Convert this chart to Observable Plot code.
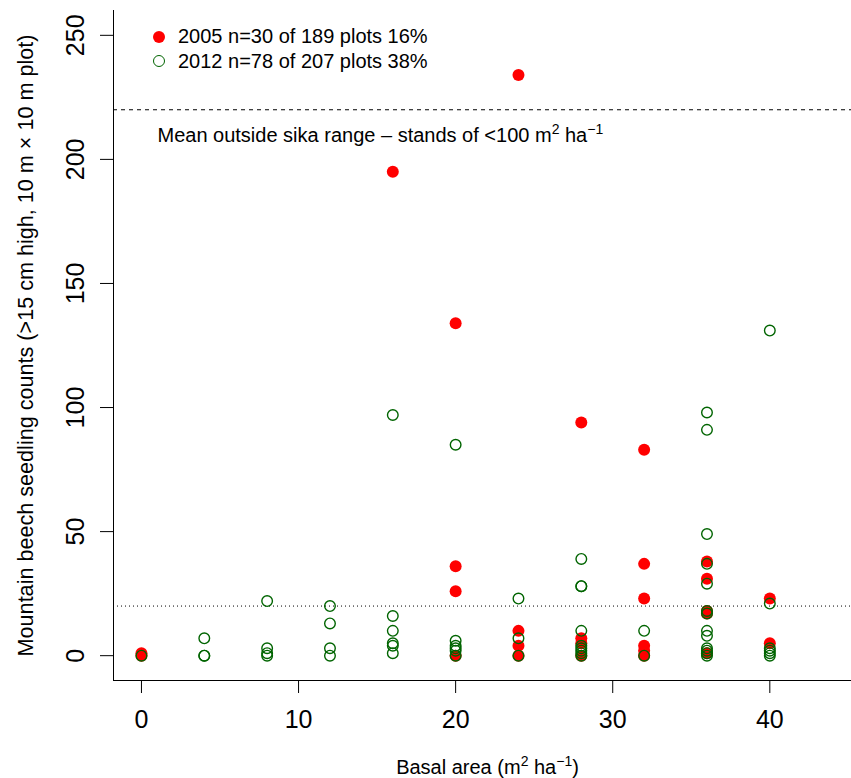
<!DOCTYPE html>
<html>
<head>
<meta charset="utf-8">
<script src="https://cdn.jsdelivr.net/npm/d3@7"></script>
<script src="https://cdn.jsdelivr.net/npm/@observablehq/plot@0.6"></script>
<style>
  html, body { margin: 0; padding: 0; background: white; }
  #wrap { position: relative; width: 851px; height: 778px; font-family: "Liberation Sans", Arial, Helvetica, sans-serif; }
  .leg { position: absolute; left: 0; font-size: 20px; line-height: 24px; white-space: nowrap; color: black; }
  .sym { position: absolute; box-sizing: border-box; border-radius: 50%; }
</style>
</head>
<body>
<div id="wrap"></div>
<script>
// ---- data ----
const basalArea2005 = [0, 0, 16, 20, 20, 20, 20, 24, 24, 24, 24, 28, 28, 28, 28, 32, 32, 32, 32, 32, 32, 36, 36, 36, 36, 36, 40, 40];
const counts2005    = [0, 1, 195, 134, 36, 26, 0, 234, 10, 4, 0, 94, 7, 5, 0, 83, 37, 23, 4, 2, 0, 38, 31, 18, 17, 1, 23, 5];

const basalArea2012 = [0, 4, 4, 4, 8, 8, 8, 8, 12, 12, 12, 12, 16, 16, 16, 16, 16, 16, 20, 20, 20, 20, 20, 20, 24, 24, 24,
                       28, 28, 28, 28, 28, 28, 28, 28, 28, 32, 32,
                       36, 36, 36, 36, 36, 36, 36, 36, 36, 36, 36, 36, 36, 40, 40, 40, 40, 40, 40];
const counts2012    = [0, 7, 0, 0, 22, 3, 1, 0, 20, 13, 3, 0, 97, 16, 10, 5, 4, 1, 85, 6, 4, 3, 2, 0, 23, 7, 0,
                       39, 28, 28, 10, 4, 3, 2, 1, 0, 10, 0,
                       98, 91, 49, 37, 29, 18, 17, 10, 8, 3, 2, 1, 0, 131, 21, 3, 2, 1, 0];

const xTicks = [0, 10, 20, 30, 40];
const yTicks = [0, 50, 100, 150, 200, 250];
const meanOutside = 220;   // dashed reference line
const lowLine = 20;        // dotted reference line

const legendLabels = ["2005 n=30 of 189 plots 16%", "2012 n=78 of 207 plots 38%"];
const xTitle = "Basal area (m^{2} ha^{\u22121})";
const yTitle = "Mountain beech seedling counts (>15 cm high, 10 m \u00d7 10 m plot)";
const noteText = "Mean outside sika range \u2013 stands of <100 m^{2} ha^{\u22121}";
const notePos = {x: 1.02, y: 209.5};

const xDomain = [-1.78, 45.2];
const yDomain = [-10, 260];

const red = "#ff0000";
const green = "#006400";

const d2005 = basalArea2005.map((x, i) => ({x, y: counts2005[i]}));
const d2012 = basalArea2012.map((x, i) => ({x, y: counts2012[i]}));

const chart = Plot.plot({
  width: 851,
  height: 778,
  marginLeft: 113,
  marginRight: 0,
  marginTop: 10,
  marginBottom: 98,
  style: {fontFamily: '"Liberation Sans", Arial, Helvetica, sans-serif', fontSize: "20px", background: "white", color: "black"},
  x: {domain: xDomain},
  y: {domain: yDomain},
  marks: [
    Plot.ruleY([lowLine], {stroke: "black", strokeWidth: 1, strokeDasharray: "1,3"}),
    Plot.ruleY([meanOutside], {stroke: "black", strokeWidth: 1, strokeDasharray: "4,4"}),
    Plot.ruleX([xDomain[0]], {stroke: "black", strokeWidth: 1}),
    Plot.ruleY([yDomain[0]], {stroke: "black", strokeWidth: 1}),
    Plot.dot(d2005, {x: "x", y: "y", r: 6, fill: red}),
    Plot.dot(d2012, {x: "x", y: "y", r: 5.3, stroke: green, strokeWidth: 1.4, fill: "none"}),
    Plot.axisX({ticks: xTicks, tickSize: 13, tickPadding: 17, fontSize: 25, label: null}),
    Plot.axisY({ticks: yTicks, tickSize: 13, tickFormat: () => "", label: null}),
    Plot.text(yTicks, {x: xDomain[0], y: d => d, text: d => String(d), rotate: -90, dx: -38, fontSize: 25, textAnchor: "middle", lineAnchor: "middle"}),
    Plot.text([noteText], {x: notePos.x, y: notePos.y, text: d => d, textAnchor: "start", lineAnchor: "middle", fontSize: 20}),
    Plot.text([xTitle], {frameAnchor: "bottom", text: d => d, dy: 87, dx: 5, textAnchor: "middle", lineAnchor: "middle", fontSize: 20}),
    Plot.text([yTitle], {frameAnchor: "left", text: d => d, rotate: -90, dx: -87, textAnchor: "middle", lineAnchor: "middle", fontSize: 21.6})
  ]
});

const wrap = document.getElementById("wrap");
wrap.appendChild(chart);

// superscripts: turn "^{...}" into raised, smaller tspans
chart.querySelectorAll("text").forEach(t => {
  const s = t.textContent;
  if (!s.includes("^{")) return;
  const parts = s.split(/\^\{([^}]*)\}/);
  while (t.firstChild) t.removeChild(t.firstChild);
  const ns = "http://www.w3.org/2000/svg";
  let raised = false;
  parts.forEach((p, i) => {
    if (p === "") { return; }
    const ts = document.createElementNS(ns, "tspan");
    ts.textContent = p;
    if (i % 2 === 1) {
      ts.setAttribute("font-size", "14");
      ts.setAttribute("dy", "-8");
      raised = true;
    } else if (raised) {
      ts.setAttribute("dy", "8");
      raised = false;
    }
    t.appendChild(ts);
  });
});

// legend (HTML overlay)
const legendRows = [
  {label: legendLabels[0], top: 24, cy: 37, kind: "fill", color: red},
  {label: legendLabels[1], top: 49, cy: 61, kind: "ring", color: green}
];
legendRows.forEach(r => {
  const sym = document.createElement("div");
  sym.className = "sym";
  sym.style.width = "12px"; sym.style.height = "12px";
  sym.style.left = (159 - 6) + "px"; sym.style.top = (r.cy - 6) + "px";
  if (r.kind === "fill") {
    sym.style.background = r.color;
  } else {
    sym.style.border = "1.4px solid " + r.color;
  }
  wrap.appendChild(sym);
  const lab = document.createElement("div");
  lab.className = "leg";
  lab.style.left = "178px";
  lab.style.top = r.top + "px";
  lab.textContent = r.label;
  wrap.appendChild(lab);
});
</script>
</body>
</html>
